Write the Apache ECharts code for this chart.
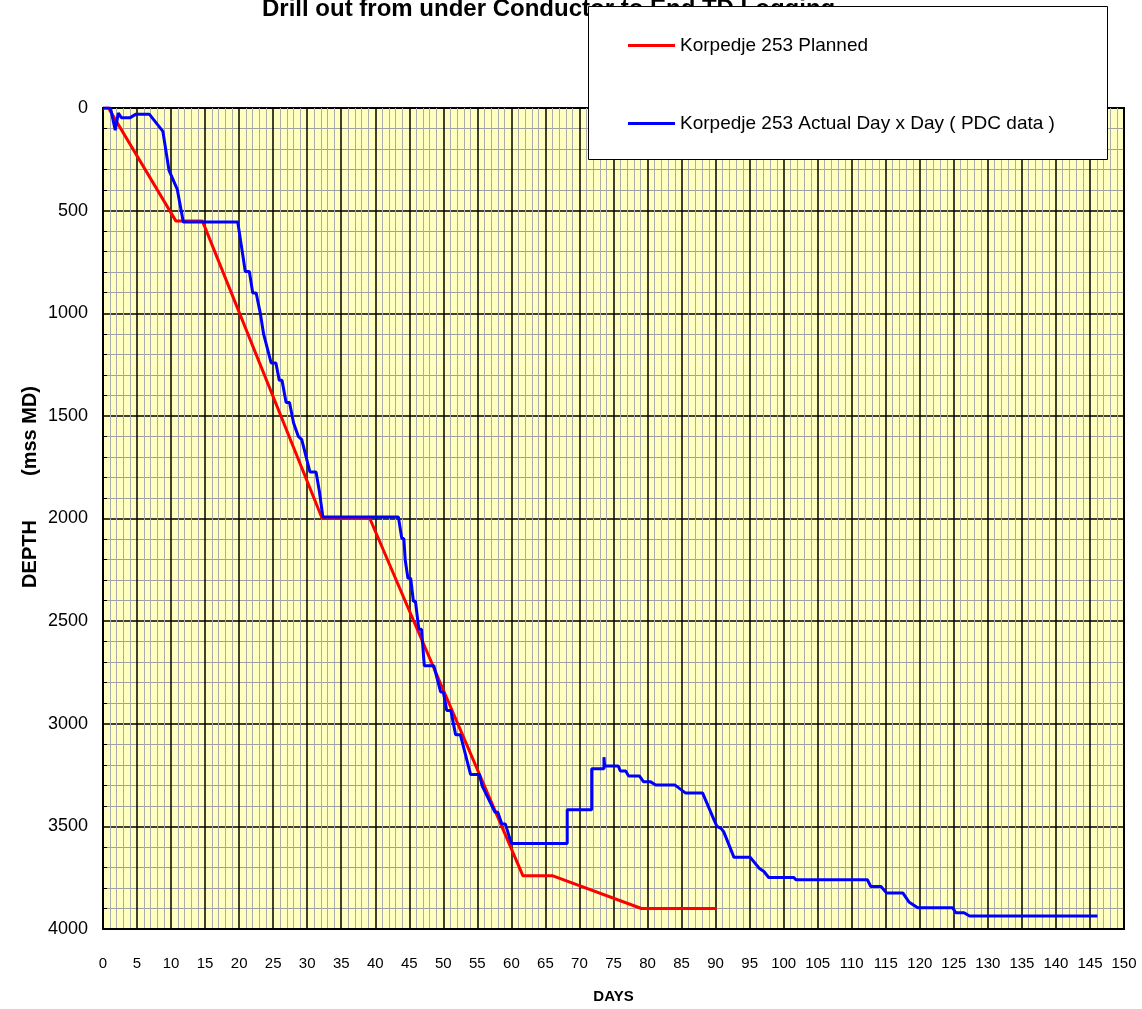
<!DOCTYPE html>
<html>
<head>
<meta charset="utf-8">
<script src="https://cdn.jsdelivr.net/npm/echarts@6/dist/echarts.min.js"></script>
<style>
html,body{margin:0;padding:0;background:#fff;}
#chart{width:1142px;height:1009px;}
</style>
</head>
<body>
<div id="chart"></div>
<script>
var titleText = 'Drill out from under Conductor to End TD Logging';
var plannedName = 'Korpedje 253 Planned';
var actualName = 'Korpedje 253 Actual Day x Day ( PDC data )';

var plannedDays  = [0, 0.8, 10.7, 14.6, 32.2, 39.2, 61.7, 66.1, 79.1, 90.2];
var plannedDepth = [0, 0, 550, 550, 2000, 2000, 3741, 3741, 3900, 3900];

var actualDays  = [0, 1.1, 1.8, 2.25, 2.7, 4, 4.85, 6.8, 8.8, 9.7, 10.9, 11.8, 19.8, 20.9, 21.5, 22, 22.5, 23.1, 23.6, 24.7, 25.4, 25.9, 26.3, 26.9, 27.4, 28, 28.7, 29.2, 30.4, 31.3, 31.8, 32.0, 32.3, 43.4, 43.9, 44.2, 44.4, 44.8, 45.2, 45.6, 45.9, 46.4, 46.8, 47.2, 48.6, 49.6, 50.0, 50.5, 51.1, 51.8, 52.5, 54, 55.3, 55.7, 57.6, 58.0, 58.6, 59.1, 60, 68.2, 68.2, 71.8, 71.8, 73.6, 73.6, 73.7, 75.7, 76, 76.8, 77.2, 78.8, 79.4, 80.4, 81.2, 84, 85.6, 88.1, 89.8, 90.2, 90.8, 91.2, 92.7, 95.1, 96.4, 97.1, 97.8, 101.5, 101.8, 112.3, 112.8, 114.3, 115.1, 117.5, 118.4, 119.7, 124.8, 125.3, 126.5, 127.3, 146.1];
var actualDepth = [0, 0, 108, 25, 47, 47, 30, 30, 114, 304, 395, 556, 556, 797, 797, 901, 901, 998, 1102, 1242, 1242, 1327, 1327, 1435, 1435, 1535, 1600, 1616, 1773, 1773, 1870, 1870, 1993, 1993, 2098, 2098, 2202, 2291, 2291, 2403, 2403, 2540, 2540, 2717, 2717, 2845, 2845, 2935, 2935, 3053, 3053, 3247, 3247, 3303, 3431, 3431, 3488, 3488, 3584, 3584, 3419, 3419, 3219, 3219, 3163, 3206, 3206, 3230, 3230, 3254, 3254, 3282, 3282, 3298, 3298, 3338, 3338, 3471, 3500, 3510, 3527, 3651, 3651, 3704, 3720, 3749, 3749, 3760, 3760, 3793, 3793, 3824, 3824, 3868, 3896, 3896, 3921, 3921, 3937, 3937];

var xTickInterval = 5;
var yTickInterval = 500;
var xAxisName = 'DAYS';
var yAxisNameA = 'DEPTH';
var yAxisNameB = '(mss MD)';

function zip(a, b) { return a.map(function (v, i) { return [v, b[i]]; }); }

var FONT = '"Liberation Sans", Arial, sans-serif';
var chart = echarts.init(document.getElementById('chart'), null, {renderer: 'canvas'});
chart.setOption({
  animation: false,
  backgroundColor: '#ffffff',
  textStyle: {fontFamily: FONT},
  grid: {
    left: 103, right: 18, top: 108, bottom: 71,
    show: true, backgroundColor: '#FFFFC0', borderColor: '#000', borderWidth: 2
  },
  xAxis: {
    type: 'value', min: 0, max: 150, interval: xTickInterval,
    name: xAxisName, nameLocation: 'middle', nameGap: 60,
    nameTextStyle: {fontWeight: 'bold', fontSize: 15, color: '#000', fontFamily: FONT},
    axisLine: {show: true, onZero: false, lineStyle: {color: '#000', width: 2}},
    axisTick: {show: false},
    axisLabel: {fontSize: 15, color: '#000', margin: 27, fontFamily: FONT},
    splitLine: {show: true, lineStyle: {color: '#000', width: 1.5}},
    minorTick: {show: false, splitNumber: 5},
    minorSplitLine: {show: true, lineStyle: {color: '#ababab', width: 1}}
  },
  yAxis: {
    type: 'value', inverse: true, min: 0, max: 4000, interval: yTickInterval,
    axisLine: {show: true, onZero: false, lineStyle: {color: '#000', width: 2}},
    axisTick: {show: false, inside: true},
    axisLabel: {fontSize: 18, color: '#000', margin: 15, fontFamily: FONT,
                formatter: function (v) { return String(v); }},
    splitLine: {show: true, lineStyle: {color: '#000', width: 1.5}},
    minorTick: {show: true, splitNumber: 5, length: 4, lineStyle: {color: '#000', width: 1}},
    minorSplitLine: {show: true, lineStyle: {color: '#a0a0a0', width: 1}}
  },
  legend: {
    orient: 'vertical', left: 623, top: 31, itemGap: 59,
    itemWidth: 47, itemHeight: 3, icon: 'rect',
    textStyle: {fontSize: 19, color: '#000', fontFamily: FONT},
    z: 20,
    data: [plannedName, actualName]
  },
  graphic: [
    {type: 'text', left: 262, top: -3, z: 1,
     style: {text: titleText, font: 'bold 24px "Liberation Sans", Arial, sans-serif', fill: '#000'}},
    {type: 'rect', shape: {x: 588.5, y: 6.5, width: 519, height: 153}, z: 10,
     style: {fill: '#fff', stroke: '#000', lineWidth: 1}},
    {type: 'text', x: 30, y: 554, rotation: Math.PI / 2, z: 5,
     style: {text: yAxisNameA, font: 'bold 20px "Liberation Sans", Arial, sans-serif', fill: '#000', textAlign: 'center', textVerticalAlign: 'middle'}},
    {type: 'text', x: 30, y: 431, rotation: Math.PI / 2, z: 5,
     style: {text: yAxisNameB, font: 'bold 20px "Liberation Sans", Arial, sans-serif', fill: '#000', textAlign: 'center', textVerticalAlign: 'middle'}}
  ],
  series: [
    {name: plannedName, type: 'line', data: zip(plannedDays, plannedDepth),
     showSymbol: false, symbol: 'none', lineStyle: {color: '#ff0000', width: 3}, itemStyle: {color: '#ff0000'}, z: 3},
    {name: actualName, type: 'line', data: zip(actualDays, actualDepth),
     showSymbol: false, symbol: 'none', lineStyle: {color: '#0000ff', width: 3}, itemStyle: {color: '#0000ff'}, z: 4}
  ]
});
</script>
</body>
</html>
